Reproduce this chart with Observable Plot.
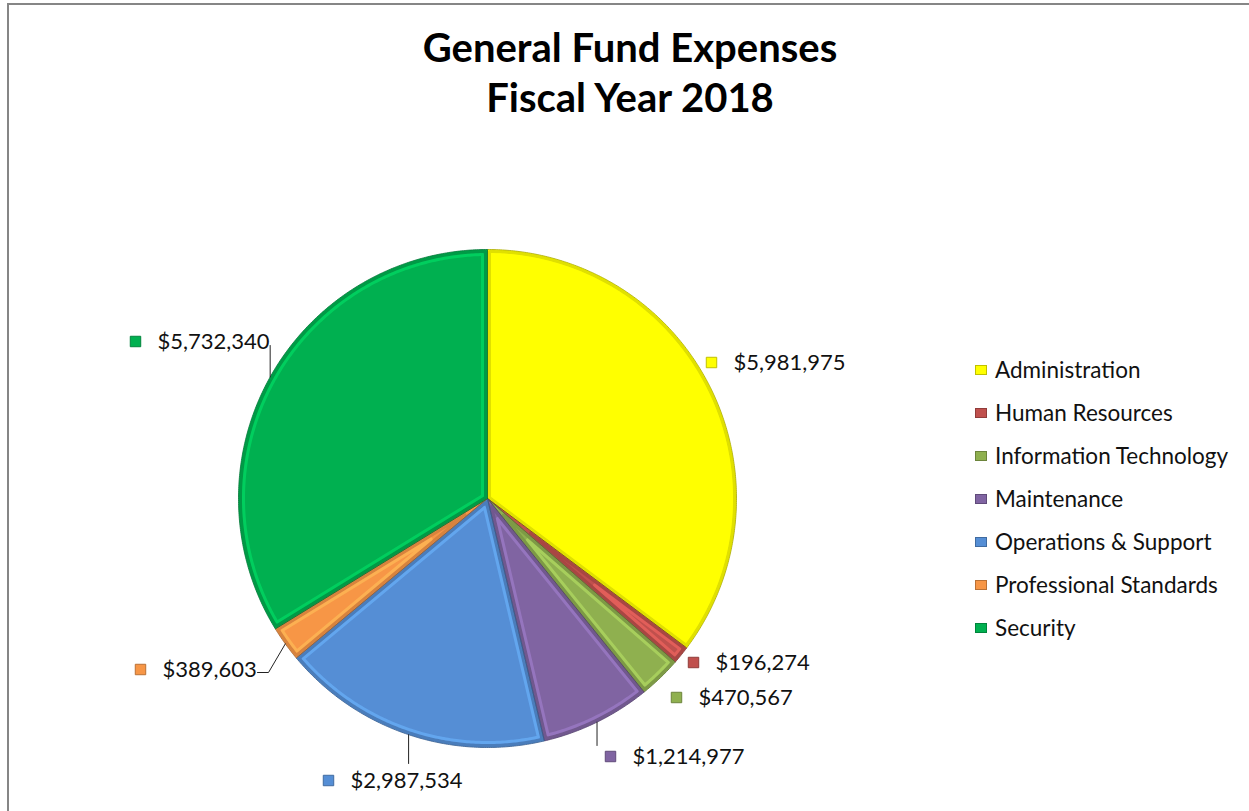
<!DOCTYPE html>
<html>
<head>
<meta charset="utf-8">
<script src="https://cdn.jsdelivr.net/npm/d3@7"></script>
<script src="https://cdn.jsdelivr.net/npm/@observablehq/plot@0.6"></script>
<style>
  body { margin: 0; background: #fff; font-family: Lato, "Open Sans", sans-serif; }
  #page { position: relative; width: 1249px; height: 811px; overflow: hidden; background: #fff; }
  #frame { position: absolute; left: 7px; top: 3px; width: 1400px; height: 1000px;
           border-left: 2px solid #868686; border-top: 2px solid #868686; pointer-events: none; }
  #title { position: absolute; left: 8px; width: 1244px; top: 22px; text-align: center;
           font-weight: bold; font-size: 40px; line-height: 50px; color: #000; }
  #chart { position: absolute; left: 0; top: 130px; }
  #legend { position: absolute; left: 975px; top: 348px; }
  .item { height: 43px; display: flex; align-items: center; font-size: 22.5px; color: #111; white-space: nowrap; }
  .sw { width: 12px; height: 10px; margin-right: 8px; box-sizing: border-box; }
</style>
</head>
<body>
<div id="page">
  <div id="frame"></div>
  <div id="title">General Fund Expenses<br>Fiscal Year 2018</div>
  <div id="chart"></div>
  <div id="legend"></div>
</div>
<script>
// ---- data ----
const categories = ["Administration", "Human Resources", "Information Technology", "Maintenance",
                    "Operations & Support", "Professional Standards", "Security"];
const amounts = [5981975, 196274, 470567, 1214977, 2987534, 389603, 5732340];
const colors = ["#FFFF00", "#C0504D", "#8FB04F", "#8064A2", "#558ED5", "#F79646", "#00B050"];

// ---- layout (pixels, relative to pie centre) ----
const W = 1249, H = 681, TOP = 130;
const CX = 487, CY = 498 - TOP, R = 249;
const labelLayout = [
  {tx: 246, ty: -136, leader: null},
  {tx: 228, ty: 164, leader: null},
  {tx: 211, ty: 199, leader: null},
  {tx: 145, ty: 258, leader: [["edge", 247]]},
  {tx: -137, ty: 282, leader: [["edge", 265]]},
  {tx: -325, ty: 171, leader: [[-219, 174], [-230, 174]]},
  {tx: -330, ty: -157, leader: [["edge", -153]]}
];

const fmt = d3.format("$,");
const data = categories.map((c, i) => ({name: c, amount: amounts[i], color: colors[i]}));
const arcs = d3.pie().sort(null).value(d => d.amount)(data);

const pt = (a, r) => ({x: r * Math.sin(a), y: -r * Math.cos(a)});
const step = Math.PI / 360;

// slice polygons
const slices = arcs.map(a => {
  const n = Math.max(2, Math.ceil((a.endAngle - a.startAngle) / step));
  const pts = [{x: 0, y: 0}];
  for (let k = 0; k <= n; k++) pts.push(pt(a.startAngle + (a.endAngle - a.startAngle) * k / n, R));
  pts.push({x: 0, y: 0});
  return {color: a.data.color, pts};
});

// inset outline (bevel highlight) for each slice
function insetOutline(a, d) {
  const h = (a.endAngle - a.startAngle) / 2, mid = a.startAngle + h;
  const r = R - d, da = Math.asin(d / r);
  const a0 = a.startAngle + da, a1 = a.endAngle - da;
  if (a1 <= a0) return [];
  const apex = h < Math.PI / 2 ? pt(mid, Math.min(d / Math.sin(h), R * 0.6)) : {x: 0, y: 0};
  const pts = [apex];
  const n = Math.max(2, Math.ceil((a1 - a0) / step));
  for (let k = 0; k <= n; k++) pts.push(pt(a0 + (a1 - a0) * k / n, r));
  pts.push(apex);
  return pts;
}
const bevels = arcs.map(a => ({color: a.data.color, pts: insetOutline(a, 5)}));
const shades = arcs.map(a => ({color: a.data.color, pts: insetOutline(a, 2)}));

// labels
const labels = arcs.map((a, i) => {
  const L = labelLayout[i];
  const mid = (a.startAngle + a.endAngle) / 2;
  const e = pt(mid, R);
  let leader = null;
  if (L.leader) leader = [e, ...L.leader.map(([x, y]) => ({x: x === "edge" ? e.x : x, y}))];
  return {label: fmt(a.data.amount), color: a.data.color, tx: L.tx, ty: L.ty, leader};
});

const marks = [];
slices.forEach(s => {
  marks.push(Plot.line(s.pts, {x: "x", y: "y", fill: s.color, stroke: "none"}));
});
shades.forEach(s => {
  if (s.pts.length) marks.push(Plot.line(s.pts, {x: "x", y: "y",
    stroke: d3.color(s.color).darker(0.7).formatHex(), strokeWidth: 3, strokeOpacity: 0.55, strokeLinejoin: "round"}));
});
bevels.forEach(s => {
  if (s.pts.length) marks.push(Plot.line(s.pts, {x: "x", y: "y",
    stroke: d3.color(s.color).brighter(0.7).formatHex(), strokeWidth: 3, strokeOpacity: 0.6, strokeLinejoin: "round"}));
});
slices.forEach(s => {
  marks.push(Plot.line(s.pts, {x: "x", y: "y", stroke: d3.color(s.color).darker(1.2).formatHex(),
    strokeWidth: 1, strokeOpacity: 0.8, strokeLinejoin: "round"}));
});
labels.forEach(l => {
  if (l.leader) marks.push(Plot.line(l.leader, {x: "x", y: "y", stroke: "#222", strokeWidth: 1}));
});
marks.push(Plot.dot(labels, {x: d => d.tx - 22, y: "ty", symbol: "square", r: 5.9,
  fill: "color", stroke: d => d3.color(d.color).darker(0.8).formatHex(), strokeWidth: 1}));
marks.push(Plot.text(labels, {x: "tx", y: "ty", text: "label", textAnchor: "start", fontSize: 22, fill: "#111"}));

const chart = Plot.plot({
  width: W, height: H, margin: 0,
  style: {fontFamily: "Lato, 'Open Sans', sans-serif", background: "transparent"},
  x: {domain: [-CX, W - CX], range: [0, W], axis: null},
  y: {domain: [-CY, H - CY], range: [0, H], axis: null},
  color: {type: "identity"},
  marks
});
document.getElementById("chart").appendChild(chart);

// legend
const legend = document.getElementById("legend");
data.forEach(d => {
  const it = document.createElement("div");
  it.className = "item";
  const sw = document.createElement("div");
  sw.className = "sw";
  sw.style.background = d.color;
  sw.style.border = "1px solid " + d3.color(d.color).darker(0.8).formatHex();
  const t = document.createElement("span");
  t.textContent = d.name;
  it.appendChild(sw); it.appendChild(t);
  legend.appendChild(it);
});
</script>
</body>
</html>
